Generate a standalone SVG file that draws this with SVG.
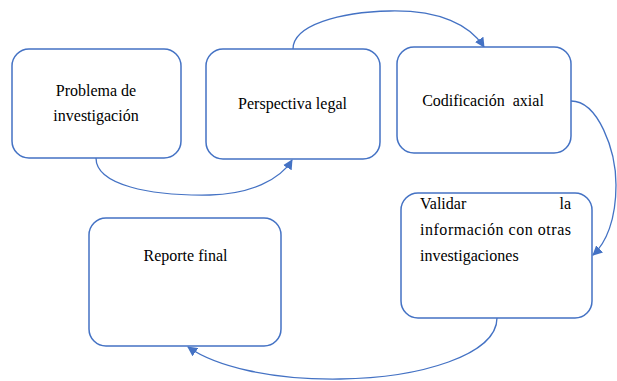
<svg xmlns="http://www.w3.org/2000/svg" width="617" height="381" viewBox="0 0 617 381">
<defs>
<style>
.box{fill:#fff;stroke:#4472C4;stroke-width:1.5}
.con{fill:none;stroke:#4472C4;stroke-width:1.3}
text{font-family:'Liberation Serif','Times New Roman',serif;font-size:16px;fill:#000}
.c{text-anchor:middle}
</style>
<marker id="arr" viewBox="0 0 10 10" refX="9" refY="5" markerWidth="10" markerHeight="10" markerUnits="userSpaceOnUse" orient="auto">
<path d="M0,0 L10,5 L0,10 Z" fill="#4472C4"/>
</marker>
</defs>
<rect width="617" height="381" fill="#fff"/>
<g id="connectors">
<path class="con" d="M96,158 C96,185 150,196 210,195 C250,194 280,180 292,160" marker-end="url(#arr)"/>
<path class="con" d="M293,49 C293,25 340,12 390,11 C440,10 470,25 484,47" marker-end="url(#arr)"/>
<path class="con" d="M571,101 C598,101 616,150 616,185 C616,220 606,243 593,255" marker-end="url(#arr)"/>
<path class="con" d="M497,318 C497,355 420,378 340,379 C270,380 215,366 188,347" marker-end="url(#arr)"/>
</g>
<g id="n1">
<rect class="box" x="12" y="49" width="169" height="109" rx="17"/>
<text class="c" x="96" y="96">Problema de</text>
<text class="c" x="96" y="121">investigación</text>
</g>
<g id="n2">
<rect class="box" x="206" y="49" width="174" height="110" rx="17"/>
<text class="c" x="292.5" y="109">Perspectiva legal</text>
</g>
<g id="n3">
<rect class="box" x="397" y="47" width="174" height="106" rx="17"/>
<text class="c" x="483" y="106" xml:space="preserve">Codificación  axial</text>
</g>
<g id="n4">
<rect class="box" x="401" y="193" width="191" height="125" rx="17"/>
<text x="420" y="209">Validar</text>
<text x="571" y="209" text-anchor="end">la</text>
<text x="420" y="235" textLength="151" lengthAdjust="spacing">información con otras</text>
<text x="420" y="261">investigaciones</text>
</g>
<g id="n5">
<rect class="box" x="89" y="218" width="192" height="128" rx="17"/>
<text class="c" x="185.5" y="261">Reporte final</text>
</g>
</svg>
